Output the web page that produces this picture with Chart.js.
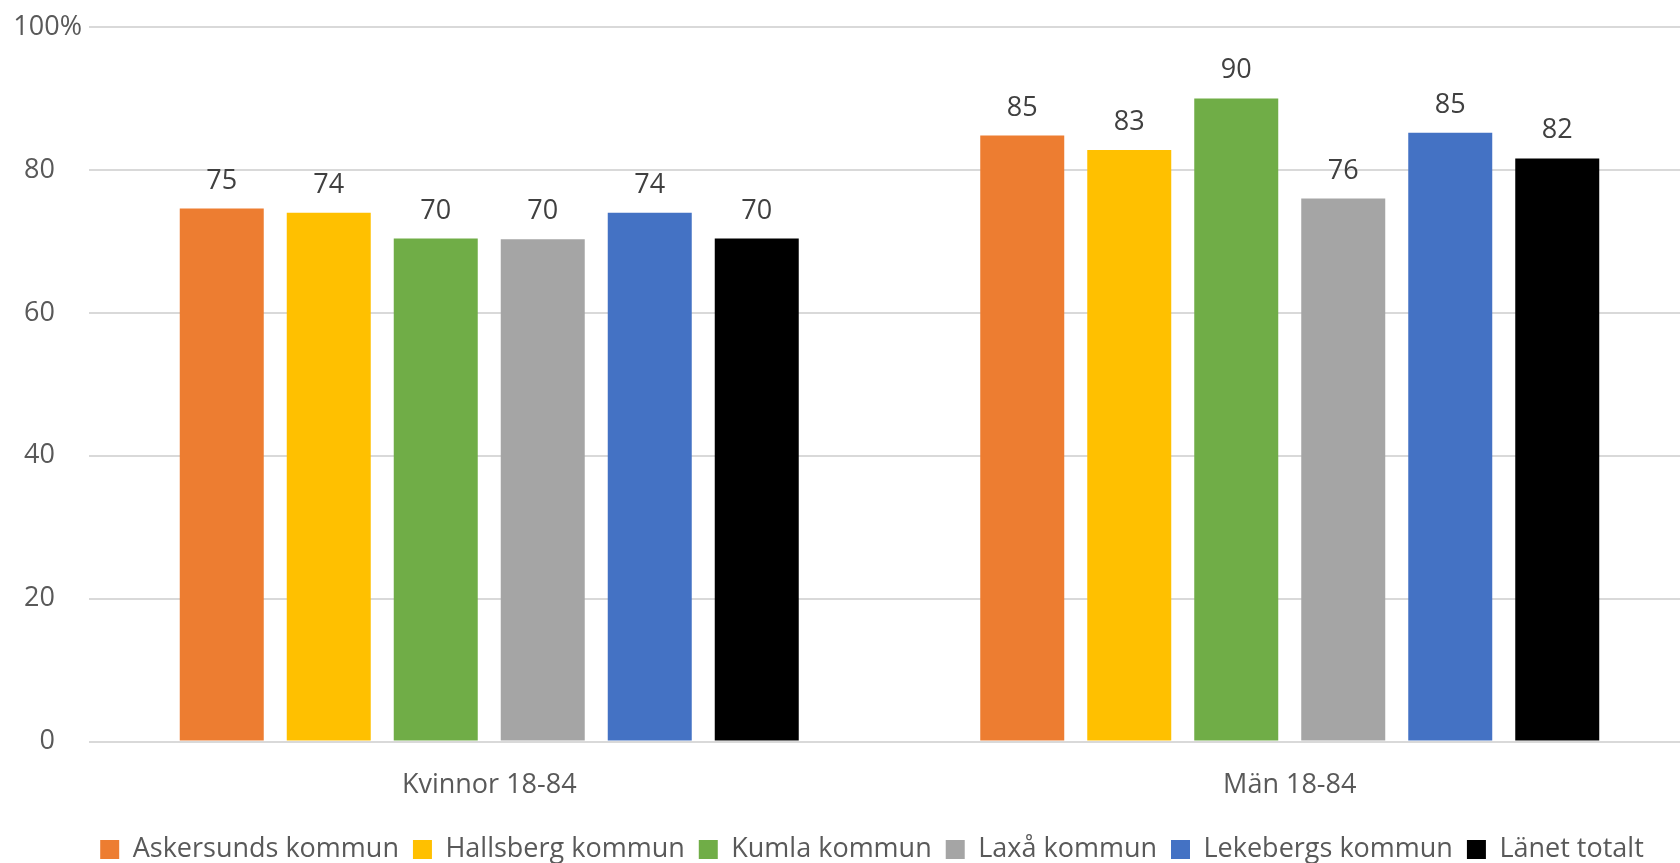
<!DOCTYPE html>
<html>
<head>
<meta charset="utf-8">
<script src="https://cdn.jsdelivr.net/npm/chart.js@4/dist/chart.umd.min.js"></script>
<style>
    html, body { margin: 0; padding: 0; background: #fff; overflow: hidden; }
    #wrap { width: 1690px; height: 863px; }
</style>
</head>
<body>
<div id="wrap"><canvas id="chartGrupper"></canvas></div>
<script>
const kategorier = ['Kvinnor 18-84', 'Män 18-84']
const kommuner = ['Askersunds kommun', 'Hallsberg kommun', 'Kumla kommun', 'Laxå kommun', 'Lekebergs kommun', 'Länet totalt']
const farger = ['#ED7D31', '#FFC000', '#70AD47', '#A5A5A5', '#4472C4', '#000000']

const askersund = [74.6, 84.8]
const hallsberg = [74.0, 82.8]
const kumla = [70.4, 90.0]
const laxa = [70.3, 76.0]
const lekeberg = [74.0, 85.2]
const lanet = [70.4, 81.6]

const yTicks = [0, 20, 40, 60, 80, 100]

const fontFamily = '"Open Sans", "Noto Sans", sans-serif'
const serier = [askersund, hallsberg, kumla, laxa, lekeberg, lanet]

// skriver ut värdet ovanför varje stapel
const etikettPlugin = {
    id: 'etiketter',
    afterLayout(chart) {
        // legenden sitter lite till höger i originalet
        if (chart.legend) {
            chart.legend.left += 27
            chart.legend.right += 27
        }
    },
    afterDatasetsDraw(chart) {
        const ctx = chart.ctx
        ctx.save()
        ctx.font = `27px ${fontFamily}`
        ctx.fillStyle = '#404040'
        ctx.textAlign = 'center'
        ctx.textBaseline = 'alphabetic'
        chart.data.datasets.forEach((ds, i) => {
            const meta = chart.getDatasetMeta(i)
            meta.data.forEach((bar, j) => {
                ctx.fillText(Math.round(ds.data[j]).toString(), bar.x, bar.y - 20)
            })
        })
        ctx.restore()
    }
}

const datasets = kommuner.map((namn, i) => ({
    label: namn,
    data: serier[i],
    backgroundColor: farger[i],
    borderWidth: 0,
    categoryPercentage: 0.802,
    barPercentage: 0.785
}))

const config = {
    type: 'bar',
    data: { labels: kategorier, datasets: datasets },
    options: {
        responsive: true,
        maintainAspectRatio: false,
        animation: false,
        layout: { padding: { top: 27, right: 0, left: 0, bottom: -10 } },
        plugins: {
            legend: {
                position: 'bottom',
                labels: {
                    boxWidth: 19,
                    boxHeight: 19,
                    padding: 14,
                    color: '#595959',
                    font: { family: fontFamily, size: 27 }
                }
            },
            tooltip: { enabled: false }
        },
        scales: {
            x: {
                grid: { display: false },
                border: { display: false },
                ticks: {
                    color: '#595959',
                    padding: 20,
                    font: { family: fontFamily, size: 27 }
                }
            },
            y: {
                min: 0,
                max: 100,
                afterBuildTicks: (scale) => {
                    scale.ticks = yTicks.map(v => ({ value: v }))
                },
                afterFit: (scale) => { scale.width = 89 },
                grid: { color: '#D9D9D9', lineWidth: 2, drawTicks: false },
                border: { display: false },
                ticks: {
                    color: '#595959',
                    padding: 7,
                    font: { family: fontFamily, size: 27 },
                    callback: (v) => v === 100 ? '100%' : v + '\u2002\u2002'
                }
            }
        }
    },
    plugins: [etikettPlugin]
}

new Chart(document.getElementById('chartGrupper'), config)
</script>
</body>
</html>
